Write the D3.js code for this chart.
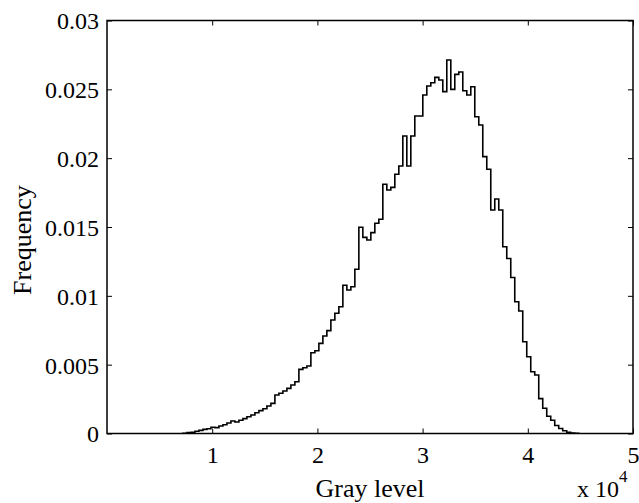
<!DOCTYPE html>
<html>
<head>
<meta charset="utf-8">
<script src="https://cdn.jsdelivr.net/npm/d3@7/dist/d3.min.js"></script>
<style>
  html, body { margin: 0; padding: 0; background: #fff; }
  svg { display: block; }
  text { font-family: "Liberation Serif", "Times New Roman", serif; fill: #000; }
</style>
</head>
<body>
<svg id="chart" width="639" height="503"></svg>
<script>
// ---- data ----
const binWidth = 0.038;          // bin width in units of 10^4 gray levels
const firstBin = 19;             // index of the first non-empty bin (left edge = index * binWidth)
const frequency = [
  0.00002, 0.00006, 0.00009, 0.00016, 0.00023, 0.00030, 0.00035, 0.00045, 0.00043,
  0.00054, 0.00064, 0.00076, 0.00091, 0.00084, 0.00096, 0.00108, 0.00122, 0.00134, 0.00151,
  0.00166, 0.00180, 0.00200, 0.00219, 0.00280, 0.00292, 0.00309, 0.00328, 0.00352, 0.00376,
  0.00466, 0.00478, 0.00490, 0.00587, 0.00601, 0.00655, 0.00708, 0.00747, 0.00824, 0.00873,
  0.00921, 0.01077, 0.01042, 0.01066, 0.01193, 0.01498, 0.01425, 0.01406, 0.01459, 0.01527,
  0.01556, 0.01810, 0.01769, 0.01788, 0.01883, 0.01943, 0.02161, 0.01943, 0.02161, 0.02306,
  0.02306, 0.02459, 0.02524, 0.02548, 0.02587, 0.02568, 0.02483, 0.02713, 0.02500, 0.02609,
  0.02626, 0.02490, 0.02459, 0.02519, 0.02301, 0.02241, 0.02011, 0.01919, 0.01623, 0.01703,
  0.01623, 0.01357, 0.01271, 0.01133, 0.00957, 0.00890, 0.00667, 0.00558, 0.00449, 0.00425,
  0.00253, 0.00183, 0.00125, 0.00096, 0.00058, 0.00036, 0.00020, 0.00009, 0.00004, 0.00002
];
const xTicks = [1, 2, 3, 4, 5];
const yTicks = [0, 0.005, 0.01, 0.015, 0.02, 0.025, 0.03];
const yTickLabels = ["0", "0.005", "0.01", "0.015", "0.02", "0.025", "0.03"];
const xLabel = "Gray level";
const yLabel = "Frequency";

// ---- layout ----
const svg = d3.select("#chart");
const L = 107, R = 633, T = 20.5, B = 433.5;
const x = d3.scaleLinear().domain([0, 5]).range([L, R]);
const y = d3.scaleLinear().domain([0, 0.03]).range([B, T]);
const tickLen = 5;

// frame
svg.append("rect")
  .attr("x", L).attr("y", T).attr("width", R - L).attr("height", B - T)
  .attr("fill", "none").attr("stroke", "#000").attr("stroke-width", 1.5);

// histogram step line
const pts = [[firstBin * binWidth, 0]];
frequency.forEach((v, i) => pts.push([(firstBin + i) * binWidth, v]));
pts.push([(firstBin + frequency.length) * binWidth, frequency[frequency.length - 1]]);
pts.push([(firstBin + frequency.length) * binWidth, 0]);
const line = d3.line().x(d => x(d[0])).y(d => y(d[1])).curve(d3.curveStepAfter);
svg.append("path")
  .attr("d", line(pts))
  .attr("fill", "none").attr("stroke", "#000").attr("stroke-width", 1.6)
  .attr("stroke-linejoin", "miter");

// axes (ticks pointing inwards)
const fs = 24;
const axB = svg.append("g").attr("transform", `translate(0,${B})`)
  .call(d3.axisBottom(x).tickValues(xTicks).tickSize(-tickLen).tickPadding(12).tickFormat(d3.format("d")));
const axT = svg.append("g").attr("transform", `translate(0,${T})`)
  .call(d3.axisTop(x).tickValues(xTicks).tickSize(-tickLen).tickFormat(""));
const axL = svg.append("g").attr("transform", `translate(${L},0)`)
  .call(d3.axisLeft(y).tickValues(yTicks).tickSize(-tickLen).tickPadding(8).tickFormat((d, i) => yTickLabels[i]));
const axR = svg.append("g").attr("transform", `translate(${R},0)`)
  .call(d3.axisRight(y).tickValues(yTicks).tickSize(-tickLen).tickFormat(""));
[axB, axT, axL, axR].forEach(g => {
  g.select(".domain").remove();
  g.selectAll(".tick line").attr("stroke", "#000").attr("stroke-width", 1);
  g.selectAll("text").style("font-family", '"Liberation Serif", serif').style("font-size", fs + "px").attr("fill", "#000");
});
axB.selectAll(".tick text").attr("dy", "0.71em");
axL.selectAll(".tick text").attr("dy", "0.35em");

// axis labels
svg.append("text").attr("x", x(2.5)).attr("y", 497)
  .attr("text-anchor", "middle").style("font-size", "26px").text(xLabel);
svg.append("text").attr("transform", `translate(31,240) rotate(-90)`)
  .attr("text-anchor", "middle").style("font-size", "26px").text(yLabel);

// exponent x 10^4
const ex = svg.append("text").attr("x", 577).attr("y", 497).style("font-size", fs + "px");
ex.append("tspan").text("x 10");
ex.append("tspan").attr("dy", -15).style("font-size", "17px").text("4");
</script>
</body>
</html>
